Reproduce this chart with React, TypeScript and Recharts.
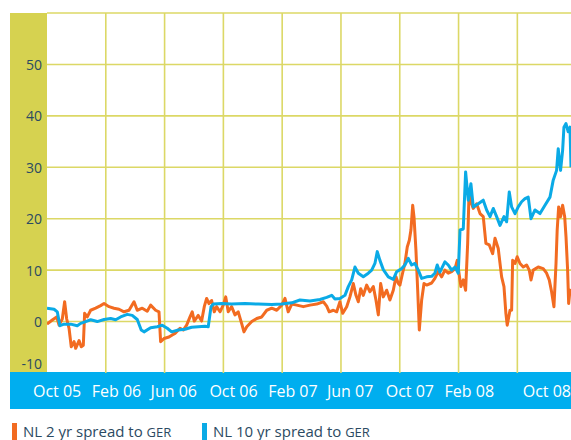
import { LineChart, Line, XAxis, YAxis, CartesianGrid } from "recharts";

// months since Oct 2005 (x) and spread in basis points (y)
const nl2Months = [
  0.0, 0.36, 0.66, 0.82, 1.04, 1.2, 1.34, 1.5, 1.65, 1.84, 1.95, 2.18, 2.33, 2.47, 2.56, 2.74, 2.97, 3.31, 3.65,
  3.88, 4.22, 4.56, 4.9, 5.24, 5.58, 5.92, 6.14, 6.48, 6.82, 7.05, 7.39, 7.62, 7.73, 7.96, 8.3, 8.52, 8.71, 9.05,
  9.27, 9.5, 9.73, 9.88, 10.02, 10.29, 10.52, 10.7, 10.86, 11.02, 11.2, 11.38, 11.54, 11.77, 11.99, 12.16, 12.33,
  12.56, 12.79, 13.01, 13.24, 13.4, 13.59, 13.93, 14.27, 14.61, 14.95, 15.29, 15.63, 15.97, 16.19, 16.41, 16.65,
  16.99, 17.44, 17.89, 18.35, 18.8, 19.03, 19.2, 19.48, 19.71, 19.93, 20.12, 20.39, 20.61, 20.84, 21.02, 21.18,
  21.34, 21.52, 21.75, 21.97, 22.2, 22.38, 22.54, 22.7, 22.88, 23.11, 23.33, 23.56, 23.74, 23.9, 24.01, 24.19,
  24.35, 24.51, 24.65, 24.76, 24.88, 24.97, 25.1, 25.22, 25.33, 25.49, 25.65, 25.83, 26.17, 26.39, 26.62, 26.85,
  27.07, 27.3, 27.53, 27.76, 27.91, 28.05, 28.16, 28.32, 28.48, 28.62, 28.71, 28.84, 29.0, 29.23, 29.46, 29.68,
  29.86, 30.09, 30.32, 30.48, 30.7, 30.93, 31.09, 31.22, 31.31, 31.5, 31.61, 31.68, 31.84, 31.99, 32.18, 32.4,
  32.63, 32.81, 32.93, 33.08, 33.42, 33.76, 33.99, 34.17, 34.33, 34.49, 34.63, 34.71, 34.81, 34.94, 35.08, 35.22,
  35.31, 35.42, 35.49, 35.58, 35.65,
];
const nl2Spread = [
  -0.5, 0.3, 0.9, -0.7, 0.5, 3.85, 0.5, -1.3, -4.9, -3.9, -5.2, -3.7, -4.9, -4.6, 1.6, 0.9, 2.2, 2.6, 3.1,
  3.5, 2.9, 2.6, 2.4, 1.9, 2.2, 3.85, 2.2, 2.6, 2.0, 3.2, 2.2, 1.9, -3.9, -3.3, -3.0, -2.6, -2.3, -1.3,
  -1.65, -0.7, 0.9, 1.9, 0.1, 1.2, 0.1, 2.9, 4.5, 3.5, 4.1, 1.9, 2.9, 1.9, 3.2, 4.8, 1.9,
  2.9, 1.3, 1.9, -0.35, -2.0, -1.0, 0.0, 0.6, 0.9, 2.2, 2.6, 2.2, 3.2, 4.5, 1.9, 3.4,
  3.2, 2.9, 3.2, 3.4, 3.85, 3.0, 1.9, 2.2, 1.9, 3.85, 1.6, 2.9, 4.8, 7.4, 5.1, 3.85,
  6.4, 5.1, 7.1, 5.8, 6.8, 4.2, 1.3, 7.4, 4.8, 6.1, 4.2, 6.1, 8.7, 7.4, 7.1, 9.4,
  11.3, 14.5, 15.8, 17.8, 22.6, 20.3, 13.9, 6.1, -1.65, 4.2, 7.4, 7.1, 7.5, 8.4, 9.7, 8.7,
  10.0, 9.4, 9.7, 10.3, 11.9, 9.0, 6.8, 8.1, 6.1, 15.2, 24.9, 23.3, 22.0, 22.9, 21.0, 20.4,
  15.2, 14.9, 13.2, 16.2, 14.2, 8.7, 6.8, 1.6, -0.7, 2.2, 2.2, 11.9, 11.3, 12.6, 11.3, 10.6,
  11.0, 10.0, 8.1, 10.0, 10.6, 10.3, 9.4, 8.1, 5.8, 2.9, 11.3, 17.8, 22.3, 20.4, 22.6, 20.4,
  16.5, 10.0, 3.5, 6.1, 5.8,
];

const nl10Months = [
  0.0, 0.48, 0.7, 0.88, 1.16, 1.61, 2.06, 2.29, 2.63, 2.97, 3.42, 3.88, 4.33, 4.67, 5.01, 5.46, 5.8, 6.14, 6.41,
  6.6, 7.05, 7.5, 7.84, 8.18, 8.48, 8.93, 9.39, 9.84, 10.29, 10.75, 10.97, 11.16, 11.31, 11.88, 12.56, 13.47,
  14.37, 15.29, 15.97, 16.65, 17.21, 17.89, 18.57, 19.03, 19.37, 19.59, 19.93, 20.27, 20.5, 20.73, 20.95, 21.18,
  21.52, 21.86, 22.09, 22.31, 22.47, 22.65, 22.88, 23.22, 23.56, 23.79, 24.13, 24.35, 24.58, 24.81, 25.03, 25.26,
  25.49, 25.83, 26.17, 26.39, 26.55, 26.73, 27.07, 27.3, 27.53, 27.76, 27.98, 28.1, 28.32, 28.48, 28.66, 28.84,
  29.0, 29.34, 29.68, 29.91, 30.14, 30.36, 30.59, 30.82, 31.09, 31.27, 31.45, 31.61, 31.84, 32.06, 32.29, 32.52,
  32.74, 32.93, 33.2, 33.54, 33.88, 34.22, 34.44, 34.67, 34.78, 34.94, 35.08, 35.17, 35.31, 35.46, 35.58, 35.65,
];
const nl10Spread = [
  2.6, 2.4, 1.9, -0.8, -0.5, -0.5, -0.8, -0.35, 0.0, 0.35, 0.0, 0.4, 0.6, 0.35, 0.9, 1.4, 1.2, 0.4, -1.65,
  -2.0, -1.2, -1.0, -0.7, -1.3, -2.0, -1.65, -1.5, -1.1, -1.0, -0.9, -1.0, 2.9, 3.4, 3.5, 3.4, 3.5,
  3.4, 3.3, 3.4, 3.65, 4.2, 4.0, 4.3, 4.7, 5.1, 4.4, 4.5, 5.1, 6.8, 8.1, 10.6, 9.4,
  8.7, 9.4, 10.0, 11.3, 13.6, 11.9, 10.1, 8.7, 8.2, 9.7, 10.3, 11.0, 12.3, 11.0, 11.3, 10.0,
  8.4, 8.7, 8.8, 9.4, 11.0, 9.6, 11.6, 11.0, 10.0, 10.6, 9.4, 17.8, 18.0, 29.1, 23.6, 26.8,
  22.3, 22.9, 23.6, 21.7, 20.4, 22.0, 20.4, 18.7, 20.4, 19.4, 25.2, 22.3, 21.0, 22.3, 23.3, 23.9,
  24.2, 20.0, 21.7, 21.0, 22.6, 24.2, 27.5, 29.4, 33.6, 29.4, 33.3, 37.8, 38.5, 36.9, 37.8, 30.0,
];

const xEnd = 35.65;
const xTicks = [0, 4, 8, 12, 16, 20, 24, 28, xEnd];
const xTickLabels = ["Oct 05", "Feb 06", "Jun 06", "Oct 06", "Feb 07", "Jun 07", "Oct 07", "Feb 08", "Oct 08"];
const xGrid = [4, 8, 12, 16, 20, 24, 28, 32];
const yTicks = [-10, 0, 10, 20, 30, 40, 50];
const yGrid = [0, 10, 20, 30, 40, 50, 60];

const ORANGE = "#f26b21";
const BLUE = "#0aaae6";
const YELLOW = "#d6d250";
const GRID = "#dcd866";
const BAND = "#00aeef";
const TEXT = "#2b4a62";
const FONT = "'Open Sans', 'Noto Sans', sans-serif";

const nl2Data = nl2Months.map((m, i) => ({ m, v: nl2Spread[i] }));
const nl10Data = nl10Months.map((m, i) => ({ m, v: nl10Spread[i] }));

const series = [
  { name: "NL 2 yr spread to ", tail: "GER", color: ORANGE, data: nl2Data },
  { name: "NL 10 yr spread to ", tail: "GER", color: BLUE, data: nl10Data },
];

function XTick(props: any) {
  const { x, y, payload } = props;
  const i = xTicks.indexOf(payload.value);
  const last = i === xTicks.length - 1;
  return (
    <text
      x={last ? x : x - 14}
      y={y + 18}
      textAnchor={last ? "end" : "start"}
      dominantBaseline="central"
      fill="#ffffff"
      fontSize={16}
      fontFamily={FONT}
    >
      {xTickLabels[i]}
    </text>
  );
}

function YTick(props: any) {
  const { x, y, payload } = props;
  // the -10 label sits above the blue band
  const dy = payload.value === -10 ? -10 : 0;
  return (
    <text x={x} y={y + dy} textAnchor="end" dominantBaseline="central" fill={TEXT} fontSize={14} fontFamily={FONT}>
      {payload.value}
    </text>
  );
}

export default function App() {
  return (
    <div style={{ position: "absolute", left: 0, top: 0, width: 571, height: 440, background: "#fff", overflow: "hidden" }}>
      <div style={{ position: "absolute", left: 10, top: 13, width: 37, height: 359, background: YELLOW }} />
      <div style={{ position: "absolute", left: 10, top: 372, width: 561, height: 37, background: BAND }} />
      <div style={{ position: "absolute", left: 0, top: 0 }}>
        <LineChart width={571} height={440} margin={{ top: 13, right: 0, left: 10, bottom: 37 }}>
          <CartesianGrid
            stroke={GRID}
            strokeWidth={1.6}
            verticalValues={xGrid}
            horizontalValues={yGrid}
          />
          <XAxis
            type="number"
            dataKey="m"
            domain={[0, xEnd]}
            ticks={xTicks}
            allowDataOverflow
            axisLine={false}
            tickLine={false}
            tickSize={0}
            tickMargin={0}
            height={30}
            interval={0}
            tick={<XTick />}
          />
          <YAxis
            type="number"
            domain={[-10, 60]}
            ticks={yTicks}
            allowDataOverflow
            axisLine={false}
            tickLine={false}
            tickSize={0}
            tickMargin={5}
            width={37}
            interval={0}
            tick={<YTick />}
          />
          {series.map((s) => (
            <Line
              key={s.name}
              data={s.data}
              dataKey="v"
              type="linear"
              stroke={s.color}
              strokeWidth={3}
              strokeLinejoin="round"
              dot={false}
              isAnimationActive={false}
            />
          ))}
        </LineChart>
      </div>
      <div style={{ position: "absolute", left: 12, top: 423, display: "flex", fontFamily: FONT, color: TEXT, fontSize: 15 }}>
        {series.map((s, i) => (
          <div key={s.name} style={{ display: "flex", alignItems: "flex-start", width: i === 0 ? 190 : 200 }}>
            <span style={{ display: "inline-block", width: 5, height: 17, background: s.color, marginRight: 6 }} />
            <span style={{ whiteSpace: "nowrap", lineHeight: "17px", position: "relative", top: 0 }}>
              {s.name}
              <span style={{ fontSize: 13 }}>{s.tail}</span>
            </span>
          </div>
        ))}
      </div>
    </div>
  );
}
